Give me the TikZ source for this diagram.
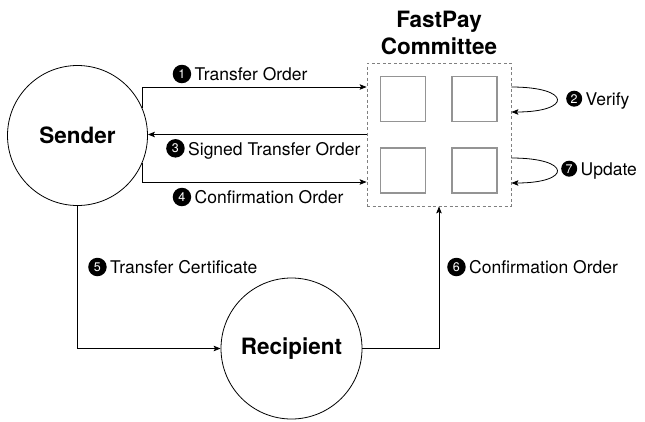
\documentclass[tikz,border=0pt]{standalone}
\usepackage{fontspec}
\setmainfont{TeX Gyre Heros}
\usetikzlibrary{arrows.meta,calc}
\newcommand\badge[2][18.5]{\tikz[x=1pt,y=1pt,baseline={([yshift=-6.8pt]badge#2.center)}]\node[circle,fill=black,inner sep=0pt,minimum size=#1pt,text=white,font=\fontsize{12.5}{12.5}\selectfont](badge#2){#2};\hspace{3.5pt}}
\begin{document}
\begin{tikzpicture}[x=1pt,y=-1pt,
  actor/.style={circle,draw,line width=0.8pt,inner sep=0pt,font=\fontsize{22.5}{27}\selectfont\bfseries},
  member/.style={rectangle,draw=black!42,line width=1.1pt,minimum size=45pt,inner sep=0pt},
  group/.style={rectangle,draw=black!50,dash pattern=on 3pt off 2.5pt,line width=0.8pt,minimum width=144pt,minimum height=143pt,inner sep=0pt},
  msg/.style={anchor=west,inner sep=0pt,font=\fontsize{17.5}{20}\selectfont},
  conn/.style={line width=0.8pt,-{Stealth[length=7pt,width=5.5pt,inset=1.5pt]}},
]
\useasboundingbox (0,0) rectangle (645,421);

% actors
\node[actor,minimum size=140pt] (sender) at (77.5,135.5) {Sender};
\node[actor,minimum size=141pt] (recipient) at (291.5,348.5) {Recipient};

% committee
\node[group] (box) at (439,134.5) {};
\node[member] (q1) at (403.2,99.2) {};
\node[member] (q2) at (474.5,99.2) {};
\node[member] (q3) at (403.2,170.5) {};
\node[member] (q4) at (474.5,170.5) {};
\node[align=center,inner sep=0pt,font=\fontsize{22.5}{27}\selectfont\bfseries] (title) at (439,33) {FastPay\\Committee};

% connectors
\draw[conn] (sender.23) |- (box.west |- 0,87);
\draw[conn] (box.west |- 0,134.5) -- (sender.east |- 0,134.5);
\draw[conn] (sender.-23) |- (box.west |- 0,182);
\draw[conn] (sender.south) |- (recipient.west);
\draw[conn] (recipient.east) -| (box.south);
\draw[conn] (box.east |- 0,87) .. controls (572,87) and (572,112) .. (box.east |- 0,112);
\draw[conn] (box.east |- 0,158) .. controls (572,158) and (572,183) .. (box.east |- 0,183);

% labels
\node[msg] (l1) at (172.5,74) {\badge{1}Transfer Order};
\node[msg] (l3) at (166,149) {\badge{3}Signed Transfer Order};
\node[msg] (l4) at (172.5,197) {\badge{4}Confirmation Order};
\node[msg] (l5) at (88,267) {\badge{5}Transfer Certificate};
\node[msg] (l6) at (447,267) {\badge{6}Confirmation Order};
\node[msg] (l2) at (566,100) {\badge[16]{2}Verify};
\node[msg] (l7) at (561,170) {\badge[16]{7}Update};
\end{tikzpicture}
\end{document}
